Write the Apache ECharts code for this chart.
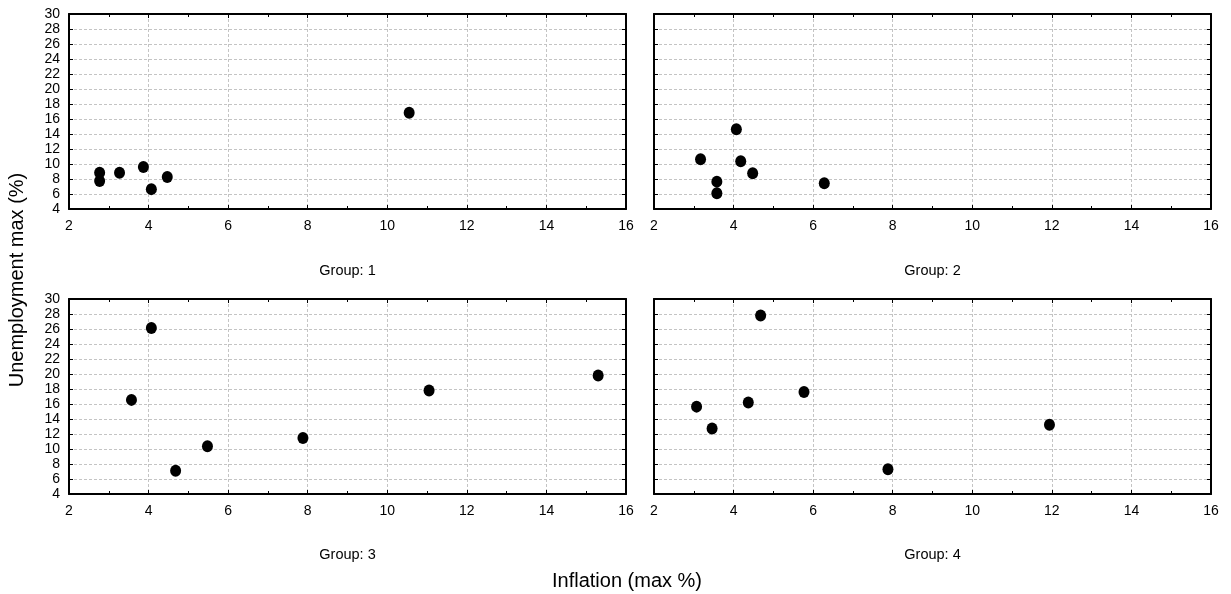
<!DOCTYPE html>
<html>
<head>
<meta charset="utf-8">
<script src="https://cdn.jsdelivr.net/npm/echarts@6/dist/echarts.min.js"></script>
<style>html,body{margin:0;padding:0;background:#fff;}#c{width:1231px;height:594px;}</style>
</head>
<body>
<div id="c"></div>
<script>
// ---- data ----
const groupNames = ['Group: 1', 'Group: 2', 'Group: 3', 'Group: 4'];
const g1Inflation = [2.77, 2.77, 3.27, 3.87, 4.07, 4.47, 10.55];
const g1Unemp     = [8.84, 7.72, 8.84, 9.6, 6.65, 8.26, 16.83];
const g2Inflation = [3.17, 4.07, 4.18, 3.58, 3.58, 4.48, 6.28];
const g2Unemp     = [10.63, 14.64, 10.37, 7.65, 6.1, 8.76, 7.43];
const g3Inflation = [4.07, 3.57, 4.68, 5.48, 7.88, 11.05, 15.3];
const g3Unemp     = [26.14, 16.55, 7.1, 10.36, 11.48, 17.8, 19.8];
const g4Inflation = [4.68, 3.07, 3.46, 4.37, 5.77, 7.88, 11.94];
const g4Unemp     = [27.8, 15.65, 12.74, 16.2, 17.6, 7.3, 13.23];
const xRange = [2, 16], xStep = 2;
const yRange = [4, 30], yStep = 2;
const xTitle = 'Inflation (max %)';
const yTitle = 'Unemployment max (%)';

const groupsX = [g1Inflation, g2Inflation, g3Inflation, g4Inflation];
const groupsY = [g1Unemp, g2Unemp, g3Unemp, g4Unemp];

const FONT = '"Liberation Sans", Arial, sans-serif';
const gridPos = [
  {left: 69, top: 14}, {left: 654, top: 14},
  {left: 69, top: 299}, {left: 654, top: 299}
];
const W = 557, H = 195;
const groupLabelY = [271, 271, 555, 555];

const grids = [], xAxes = [], yAxes = [], series = [], graphics = [];
const line = {show: true, onZero: false, lineStyle: {color: '#000', width: 2}};
const tick = {show: true, inside: true, length: 4, lineStyle: {color: '#000', width: 1}};
const dash = {show: true, lineStyle: {type: [3, 2], color: '#c4c4c4', width: 1}};

gridPos.forEach((p, i) => {
  grids.push({left: p.left, top: p.top, width: W, height: H, containLabel: false});
  const base = {gridIndex: i, type: 'value', min: xRange[0], max: xRange[1], interval: xStep};
  xAxes.push(Object.assign({}, base, {
    position: 'bottom', axisLine: line, axisTick: tick,
    minorTick: {show: true, splitNumber: 2, length: 3, lineStyle: {color: '#000'}},
    splitLine: dash,
    axisLabel: {show: true, margin: 10, fontSize: 14, color: '#000', fontFamily: FONT}
  }));
  xAxes.push(Object.assign({}, base, {
    position: 'top', axisLine: line, axisTick: tick,
    minorTick: {show: true, splitNumber: 2, length: 3, lineStyle: {color: '#000'}},
    splitLine: {show: false}, axisLabel: {show: false}
  }));
  const ybase = {gridIndex: i, type: 'value', min: yRange[0], max: yRange[1], interval: yStep};
  yAxes.push(Object.assign({}, ybase, {
    position: 'left', axisLine: line, axisTick: tick,
    splitLine: dash,
    axisLabel: {show: i % 2 === 0, margin: 9, fontSize: 14, color: '#000', fontFamily: FONT}
  }));
  yAxes.push(Object.assign({}, ybase, {
    position: 'right', axisLine: line, axisTick: tick,
    splitLine: {show: false}, axisLabel: {show: false}
  }));
  series.push({
    type: 'scatter', xAxisIndex: i * 2, yAxisIndex: i * 2,
    data: groupsX[i].map((x, k) => [x, groupsY[i][k]]),
    symbol: 'circle', symbolSize: [11, 12],
    itemStyle: {color: '#000', opacity: 1}, silent: true
  });
  graphics.push({
    type: 'text', x: p.left + W / 2, y: groupLabelY[i],
    style: {text: groupNames[i], fill: '#000', font: '14.5px ' + FONT, align: 'center', verticalAlign: 'middle'}
  });
});

graphics.push({
  type: 'text', x: 627, y: 581,
  style: {text: xTitle, fill: '#000', font: '20px ' + FONT, align: 'center', verticalAlign: 'middle'}
});
graphics.push({
  type: 'text', x: 17, y: 280, rotation: Math.PI / 2,
  style: {text: yTitle, fill: '#000', font: '20px ' + FONT, align: 'center', verticalAlign: 'middle'}
});

const chart = echarts.init(document.getElementById('c'), null, {renderer: 'canvas'});
chart.setOption({
  animation: false,
  backgroundColor: '#fff',
  grid: grids, xAxis: xAxes, yAxis: yAxes, series: series, graphic: graphics
});
</script>
</body>
</html>
